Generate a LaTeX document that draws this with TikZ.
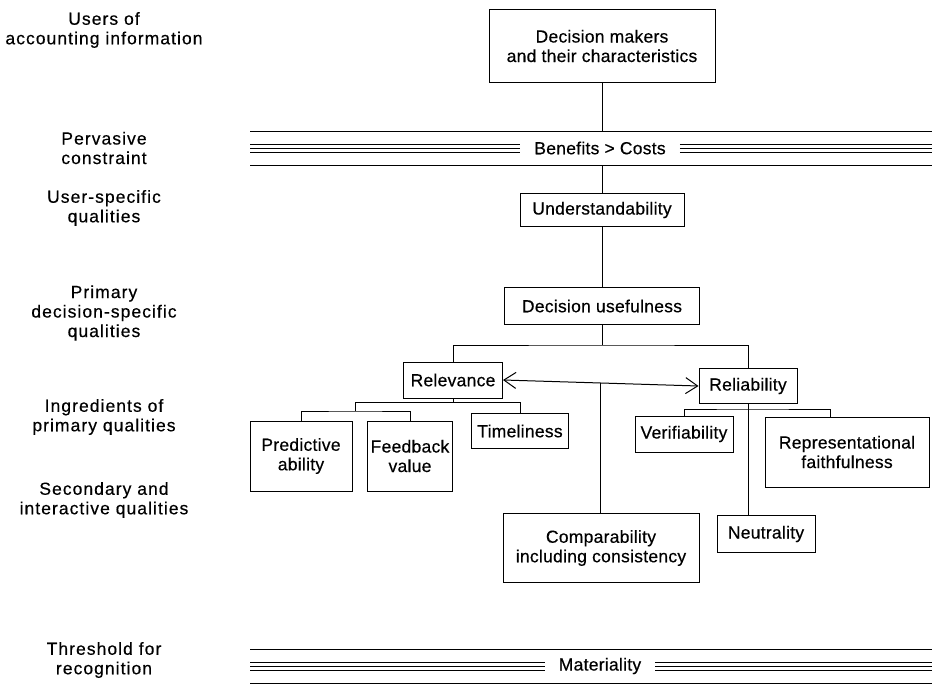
\documentclass[tikz,border=0pt]{standalone}
\usepackage{fontspec}
\setmainfont[LetterSpace=1.5,FakeBold=0.4]{Liberation Sans}
\newfontfamily\levelfont[LetterSpace=6,FakeBold=0.4]{Liberation Sans}
\usetikzlibrary{arrows.meta,positioning,calc}
\tikzset{every node/.style={font=\fontsize{17.5}{19.5}\selectfont}}

\tikzset{
  quality/.style={draw=black, line width=1pt, align=center, inner sep=0pt},
  size/.style 2 args={minimum width=#1, minimum height=#2},
  level/.style={align=center, inner sep=0pt, font=\levelfont\fontsize{17.5}{19.5}\selectfont},
  band/.style={inner xsep=14pt, inner ysep=0pt, minimum height=34pt},
  link/.style={line width=1pt},
  bandline/.style={line width=0.9pt},
  barb/.tip={Straight Barb[length=12pt,width=16pt,line width=1pt]}
}

\begin{document}
\begin{tikzpicture}[x=1pt, y=-1pt]
  \fill[white] (0,0) rectangle (932,685);
  \useasboundingbox (0,0) rectangle (932,685);

  % levels on the left
  \node[level] (users) at (104,30) {Users of\\accounting information};
  \node[level] (pervasive) at (104,148) {Pervasive\\constraint};
  \node[level] (userspec) at (104,208) {User-specific\\qualities};
  \node[level] (primary) at (104,313) {Primary\\decision-specific\\qualities};
  \node[level] (ingred) at (104,417) {Ingredients of\\primary qualities};
  \node[level] (second) at (104,500) {Secondary and\\interactive qualities};
  \node[level] (thresh) at (104,660) {Threshold for\\recognition};

  % the boxes
  \node[quality, size={226pt}{73pt}] (dm) at (602,46) {Decision makers\\and their characteristics};
  \node[band] (benefits) at (600,148) {Benefits > Costs};
  \node[quality, size={164pt}{33pt}] (und) at (602,210) {Understandability};
  \node[quality, size={195pt}{37pt}] (du) at (602,306) {Decision usefulness};
  \node[quality, size={99pt}{36pt}] (rel) at (453,380) {Relevance};
  \node[quality, size={98pt}{35pt}] (relia) at (748,386) {Reliability};
  \node[quality, size={102pt}{70pt}] (pred) at (301,456) {Predictive\\ability};
  \node[quality, size={85pt}{70pt}] (feed) at (410,456) {Feedback\\value};
  \node[quality, size={97pt}{35pt}] (tim) at (520,431) {Timeliness};
  \node[quality, size={98pt}{36pt}] (ver) at (684,434) {Verifiability};
  \node[quality, size={164pt}{70pt}] (repr) at (847,452) {Representational\\faithfulness};
  \node[quality, size={196pt}{69pt}] (comp) at (601,548) {Comparability\\including consistency};
  \node[quality, size={98pt}{37pt}] (neut) at (766,534) {Neutrality};
  \node[band] (mat) at (600,666) {Materiality};

  % the two bands
  \draw[bandline] (250,131) -- (932,131);
  \draw[bandline] (250,165) -- (932,165);
  \draw[bandline] (250,649) -- (932,649);
  \draw[bandline] (250,683) -- (932,683);
  \foreach \y in {144,148,152} {
    \draw[bandline] (250,\y) -- (benefits.west |- 0,\y);
    \draw[bandline] (benefits.east |- 0,\y) -- (932,\y);
  }
  \foreach \y in {662,666,670} {
    \draw[bandline] (250,\y) -- (mat.west |- 0,\y);
    \draw[bandline] (mat.east |- 0,\y) -- (932,\y);
  }

  % connectors
  \coordinate (fork) at (602,345);
  \coordinate (rf) at (355,402);
  \coordinate (pf) at (355,411);
  \coordinate (vf) at (748,409);
  \coordinate (mid) at ($(rel.east)!.5!(relia.west)$);

  \draw[link] (dm.south) -- (dm.south |- benefits.north);
  \draw[link] (dm.south |- benefits.south) -- (und.north);
  \draw[link] (und.south) -- (du.north);
  \draw[link] (du.south) -- (fork);
  \draw[link] (rel.north) |- (fork) -| (relia.north);
  \draw[link, barb-barb] (rel.east) -- (relia.west);
  \draw[link] (mid) -- (mid |- comp.north);
  \draw[link] (rel.south) |- (rf) -- (pf);
  \draw[link] (rf) -| (tim.north);
  \draw[link] (pred.north) |- (pf) -| (feed.north);
  \draw[link] (relia.south) -- (relia.south |- neut.north);
  \draw[link] (ver.north) |- (vf) -| ([xshift=-17pt]repr.north);
\end{tikzpicture}
\end{document}
